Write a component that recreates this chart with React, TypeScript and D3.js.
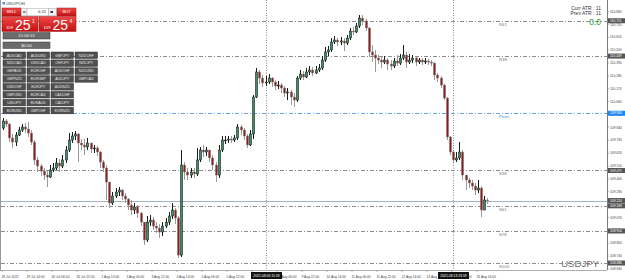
import React from 'react';
import * as d3 from 'd3';

const opens = [109.834,109.894,109.868,109.749,109.714,109.774,109.817,109.843,109.825,109.791,109.714,109.561,109.509,109.466,109.432,109.415,109.475,109.492,109.535,109.509,109.561,109.646,109.731,109.766,109.783,109.706,109.689,109.672,109.706,109.655,109.663,109.629,109.543,109.492,109.372,109.193,109.253,109.287,109.304,109.253,109.227,109.176,109.133,109.159,109.107,109.030,108.877,109.030,109.048,108.996,108.979,108.945,108.996,109.030,109.082,109.133,109.065,108.748,109.518,109.458,109.432,109.458,109.441,109.561,109.646,109.629,109.646,109.578,109.518,109.432,109.646,109.731,109.731,109.740,109.731,109.749,109.843,109.817,109.766,109.689,109.783,110.099,110.313,110.261,110.219,110.227,110.261,110.227,110.193,110.201,110.176,110.133,110.142,110.099,110.073,110.261,110.295,110.270,110.313,110.330,110.304,110.330,110.347,110.415,110.484,110.501,110.569,110.586,110.569,110.578,110.560,110.603,110.663,110.655,110.706,110.774,110.749,110.689,110.484,110.458,110.432,110.415,110.398,110.415,110.381,110.364,110.407,110.389,110.432,110.458,110.398,110.415,110.432,110.398,110.415,110.398,110.407,110.398,110.389,110.287,110.261,110.201,110.090,109.757,109.629,109.561,109.578,109.629,109.432,109.390,109.364,109.338,109.304,109.321,109.133,109.219];
const highs = [109.919,109.911,109.877,109.783,109.800,109.843,109.868,109.877,109.885,109.817,109.731,109.586,109.526,109.492,109.466,109.518,109.535,109.578,109.569,109.603,109.680,109.791,109.800,109.808,109.791,109.740,109.740,109.749,109.706,109.689,109.680,109.637,109.561,109.518,109.261,109.287,109.321,109.330,109.313,109.278,109.236,109.219,109.193,109.176,109.116,109.030,109.082,109.090,109.073,109.030,109.013,109.030,109.065,109.116,109.193,109.150,109.082,109.646,109.543,109.492,109.492,109.492,109.663,109.672,109.689,109.672,109.646,109.603,109.543,109.689,109.766,109.766,109.766,109.766,109.774,109.868,109.860,109.834,109.783,109.817,110.116,110.347,110.330,110.287,110.278,110.295,110.270,110.244,110.236,110.219,110.193,110.176,110.159,110.133,110.278,110.330,110.321,110.347,110.364,110.355,110.364,110.381,110.449,110.526,110.535,110.603,110.620,110.603,110.612,110.603,110.629,110.689,110.697,110.732,110.800,110.800,110.766,110.697,110.543,110.501,110.458,110.449,110.449,110.432,110.415,110.432,110.458,110.466,110.543,110.484,110.466,110.458,110.441,110.432,110.432,110.432,110.424,110.415,110.398,110.304,110.278,110.210,110.099,109.766,109.646,109.629,109.714,109.646,109.432,109.407,109.390,109.364,109.390,109.338,109.253,109.236];
const lows = [109.817,109.843,109.714,109.663,109.680,109.766,109.800,109.791,109.757,109.689,109.518,109.458,109.424,109.390,109.330,109.407,109.458,109.475,109.458,109.492,109.535,109.629,109.706,109.731,109.543,109.646,109.603,109.646,109.620,109.620,109.595,109.492,109.458,109.219,109.150,109.176,109.236,109.253,109.219,109.193,109.133,109.090,109.099,109.065,108.996,108.834,108.860,108.996,108.962,108.937,108.894,108.911,108.979,109.005,109.056,109.013,108.723,108.731,109.390,109.390,109.407,109.407,109.424,109.543,109.586,109.595,109.543,109.475,109.372,109.407,109.629,109.697,109.706,109.706,109.714,109.731,109.774,109.731,109.663,109.680,109.740,110.090,110.210,110.184,110.193,110.210,110.184,110.159,110.167,110.133,110.099,110.073,110.031,110.014,110.056,110.244,110.244,110.261,110.287,110.278,110.295,110.313,110.330,110.398,110.449,110.484,110.552,110.535,110.543,110.492,110.543,110.586,110.629,110.646,110.689,110.714,110.663,110.441,110.398,110.313,110.381,110.347,110.381,110.330,110.330,110.347,110.364,110.372,110.415,110.347,110.381,110.389,110.364,110.381,110.372,110.381,110.372,110.364,110.244,110.227,110.176,110.073,109.731,109.603,109.535,109.543,109.561,109.390,109.304,109.321,109.304,109.261,109.278,109.073,109.167,109.184];
const closes = [109.894,109.868,109.749,109.714,109.774,109.817,109.843,109.825,109.791,109.714,109.561,109.509,109.466,109.432,109.415,109.475,109.492,109.535,109.509,109.561,109.646,109.731,109.766,109.783,109.706,109.689,109.672,109.706,109.655,109.663,109.629,109.543,109.492,109.372,109.193,109.253,109.287,109.304,109.253,109.227,109.176,109.133,109.159,109.107,109.030,108.877,109.030,109.048,108.996,108.979,108.945,108.996,109.030,109.082,109.133,109.065,108.748,109.518,109.458,109.432,109.458,109.441,109.561,109.646,109.629,109.646,109.578,109.518,109.432,109.646,109.731,109.731,109.740,109.731,109.749,109.843,109.817,109.766,109.689,109.783,110.099,110.313,110.261,110.219,110.227,110.261,110.227,110.193,110.201,110.176,110.133,110.142,110.099,110.073,110.261,110.295,110.270,110.313,110.330,110.304,110.330,110.347,110.415,110.484,110.501,110.569,110.586,110.569,110.578,110.560,110.603,110.663,110.655,110.706,110.774,110.749,110.689,110.484,110.458,110.432,110.415,110.398,110.415,110.381,110.364,110.407,110.389,110.432,110.458,110.398,110.415,110.432,110.398,110.415,110.398,110.407,110.398,110.389,110.287,110.261,110.201,110.090,109.757,109.629,109.561,109.578,109.629,109.432,109.390,109.364,109.338,109.304,109.321,109.133,109.219,109.214];

const priceTicks = [110.83,110.72,110.61,110.5,110.39,110.28,110.17,110.06,109.95,109.84,109.73,109.62,109.51,109.4,109.29,109.18,109.07,108.96,108.85,108.74,108.63];
// visible part of each time label ('' = fully hidden behind a period box); anchor 'end' = only the tail shows
const timeLabels = ['28 Jul 2021','29 Jul 14:00','30 Jul 06:00','30 Jul 22:00','2 Aug 14:00','3 Aug 06:00','3 Aug 22:00','4 Aug 14:00','5 Aug 06:00','5 Aug 22:00','','Aug 06:00','9 Aug 22:00','10 Aug 14:00','11 Aug 06:00','11 Aug 22:00','12 Aug 14:00','13 Aug','00','16 Aug 14:00'];
const timeLabelTail = [false,false,false,false,false,false,false,false,false,false,false,true,false,false,false,false,false,false,true,false];
const timeLabelBars = [0,8,16,24,32,40,48,56,64,72,80,88,96,104,112,120,128,136,144,152];
const levelNames = ['R61','R38','Pivot','S38','S61','S78','S100'];
const levelValues = [110.751,110.449,109.96,109.471,109.169,108.954,108.68];
const bidPrice = 109.214;
const markerBars = [84, 144];
const markerLabels = ['2021.08.06 15:59', '2021.08.13 23:59'];
const pairNames = ['AUDCAD','NZDCAD','GBPAUD','GBPNZD','USDCHF','GBPUSD','USDJPY','EURUSD','AUDUSD','USDCAD','EURCHF','EURGBP','EURJPY','EURCAD','EURAUD','GBPCHF','GBPJPY','CHFJPY','AUDCHF','AUDJPY','AUDNZD','CADCHF','CADJPY','EURNZD','NZDCHF','NZDJPY','NZDUSD','GBPCAD'];

const FONT = '"Liberation Sans", Arial, sans-serif';

export default function App() {
  const x = d3.scaleLinear().domain([0, 192]).range([3, 603]);
  const y = d3.scaleLinear().domain([108.7, 110.8]).range([260.7, 15]);
  const plotRight = 607;
  const plotBottom = 270;
  const fmt = d3.format('.3f');

  const candles = closes.map((c, i) => {
    const o = opens[i];
    const hi = Math.max(highs[i], o, c);
    const lo = Math.min(lows[i], o, c);
    const bull = c >= o;
    const cx = Math.round(x(i)) + 0.5;
    const top = y(Math.max(o, c));
    const bh = Math.max(Math.abs(y(o) - y(c)), 0.8);
    return (
      <g key={i}>
        <line x1={cx} x2={cx} y1={y(hi)} y2={y(lo)} stroke={bull ? '#1a1a1a' : '#9a9a9a'} strokeWidth={1} />
        <rect x={cx - 1.1} y={top} width={2.2} height={bh} fill={bull ? '#3f8f66' : '#8e1c1c'} stroke={bull ? '#111' : '#8a8a8a'} strokeWidth={0.5} />
      </g>
    );
  });

  const levelLines = levelNames.map((n, i) => {
    const yy = Math.round(y(levelValues[i])) + 0.5;
    const isPivot = n === 'Pivot';
    return (
      <g key={n}>
        <line x1={1} x2={plotRight} y1={yy} y2={yy} stroke={isPivot ? '#6aa5e8' : '#8c8c8c'} strokeWidth={1} strokeDasharray="4 2 1 2" />
        <text x={499} y={yy + 4.3} fontSize={4.3} fill={isPivot ? '#3d8fe0' : '#777'} fontFamily={FONT}>{n}</text>
      </g>
    );
  });

  const bidY = Math.round(y(bidPrice)) + 0.5;

  const axisBoxes = [
    ...levelNames.map((n, i) => ({ v: levelValues[i], c: n === 'Pivot' ? '#1e88f0' : '#555' })),
    { v: bidPrice, c: '#555' },
  ];

  return (
    <svg width={625} height={280} style={{ position: 'absolute', left: 0, top: 0, background: '#fff' }} fontFamily={FONT}>
      <rect x={0} y={0} width={625} height={280} fill="#fff" />
      {markerBars.map((b) => (
        <line key={b} x1={Math.round(x(b)) + 0.5} x2={Math.round(x(b)) + 0.5} y1={0} y2={plotBottom} stroke="#8c8c8c" strokeWidth={1} strokeDasharray="1 1.5" />
      ))}
      {levelLines}
      <line x1={1} x2={plotRight} y1={bidY} y2={bidY} stroke="#a8b4c0" strokeWidth={1} />
      {candles}

      <line x1={0.5} x2={0.5} y1={0} y2={plotBottom} stroke="#9a9a9a" strokeWidth={1} />
      <line x1={0} x2={plotRight} y1={plotBottom + 0.5} y2={plotBottom + 0.5} stroke="#b0b0b0" strokeWidth={1} />
      <line x1={plotRight + 0.5} x2={plotRight + 0.5} y1={0} y2={plotBottom} stroke="#7a7a7a" strokeWidth={1} />

      {priceTicks.map((p) => (
        <g key={p}>
          <line x1={plotRight} x2={plotRight + 2} y1={y(p)} y2={y(p)} stroke="#7a7a7a" strokeWidth={0.6} />
          <text x={610} y={y(p) + 1.2} fontSize={3.3} fill="#444">{fmt(p)}</text>
        </g>
      ))}
      {axisBoxes.map((b, i) => (
        <g key={'b' + i}>
          <rect x={608} y={y(b.v) - 2.5} width={17} height={5} fill={b.c} />
          <text x={610} y={y(b.v) + 1.2} fontSize={3.3} fill="#fff">{fmt(b.v)}</text>
        </g>
      ))}

      {timeLabels.map((t, i) => {
        const lx = x(timeLabelBars[i]) - 1.5;
        const tail = timeLabelTail[i];
        return (
          <g key={'t' + i}>
            <line x1={Math.round(lx)} x2={Math.round(lx)} y1={plotBottom} y2={plotBottom + 2} stroke="#888" strokeWidth={0.6} />
            {t !== '' && (
              <text x={tail ? lx + 20 : lx} y={277.5} fontSize={3.3} fill="#444" textAnchor={tail ? 'end' : 'start'}>{t}</text>
            )}
          </g>
        );
      })}
      {markerBars.map((b, i) => (
        <g key={'m' + b}>
          <rect x={Math.round(x(b)) - 15} y={272} width={31} height={7} fill="#111" />
          <text x={Math.round(x(b)) + 0.5} y={277.2} fontSize={3.4} fill="#fff" textAnchor="middle">{markerLabels[i]}</text>
        </g>
      ))}

      <text x={599} y={267} fontSize={9.6} fill="#6e6e6e" textAnchor="end">USDJPY</text>

      <text x={601} y={9.5} fontSize={5} fill="#333" textAnchor="end">Curr ATR : 11</text>
      <text x={601} y={15} fontSize={5} fill="#333" textAnchor="end">Prev ATR : 11</text>
      <text x={601} y={24.5} fontSize={8.5} fill="#2e9a2e" textAnchor="end">0.0</text>

      <rect x={2.5} y={2} width={2.5} height={2.5} fill="#5b8fd1" />
      <text x={6} y={5} fontSize={3.6} fill="#333">USDJPY,H1</text>

      <defs>
        <linearGradient id="redg" x1="0" y1="0" x2="0" y2="1">
          <stop offset="0" stopColor="#f04848" />
          <stop offset="1" stopColor="#c41010" />
        </linearGradient>
      </defs>
      <rect x={2} y={8} width={19} height={8} fill="url(#redg)" stroke="#9a1a1a" strokeWidth={0.5} />
      <text x={11.5} y={13.3} fontSize={4} fill="#fff" textAnchor="middle">SELL</text>
      <rect x={21.5} y={8.5} width={5.5} height={7} fill="#f2f2f2" stroke="#aaa" strokeWidth={0.5} />
      <rect x={23} y={11.5} width={2.5} height={1} fill="#333" />
      <rect x={27} y={8.5} width={21.5} height={7} fill="#fff" stroke="#aaa" strokeWidth={0.5} />
      <text x={42} y={13.3} fontSize={4} fill="#222" textAnchor="middle">0.25</text>
      <rect x={48.5} y={8.5} width={8} height={7} fill="#f2f2f2" stroke="#aaa" strokeWidth={0.5} />
      <rect x={50.5} y={11} width={2.5} height={2} fill="#333" />
      <rect x={57} y={8} width={19} height={8} fill="url(#redg)" stroke="#9a1a1a" strokeWidth={0.5} />
      <text x={66.5} y={13.3} fontSize={4} fill="#fff" textAnchor="middle">BUY</text>

      <rect x={2} y={16.5} width={36} height={15} fill="url(#redg)" stroke="#9a1a1a" strokeWidth={0.5} />
      <text x={6} y={29} fontSize={4.2} fill="#fff">109</text>
      <text x={15} y={30} fontSize={14} fill="#fff">25</text>
      <text x={32} y={22.5} fontSize={5} fill="#fff">1</text>
      <rect x={39} y={16.5} width={37} height={15} fill="url(#redg)" stroke="#9a1a1a" strokeWidth={0.5} />
      <text x={43.5} y={29} fontSize={4.2} fill="#fff">109</text>
      <text x={52.5} y={30} fontSize={14} fill="#fff">25</text>
      <text x={69.5} y={22.5} fontSize={5} fill="#fff">4</text>

      <rect x={3} y={32.5} width={47} height={6.5} fill="#6b6b6b" stroke="#3a3a3a" strokeWidth={0.5} />
      <text x={26.5} y={37.3} fontSize={4.2} fill="#f4f4f4" textAnchor="middle">21:54:13</text>
      <rect x={3} y={42} width={47} height={6.5} fill="#6b6b6b" stroke="#3a3a3a" strokeWidth={0.5} />
      <text x={26.5} y={46.8} fontSize={4.2} fill="#f4f4f4" textAnchor="middle">$0.00</text>

      {pairNames.map((p, i) => {
        const col = Math.floor(i / 8);
        const row = i % 8;
        const bx = 3 + col * 24;
        const by = 52 + row * 7.9;
        return (
          <g key={p}>
            <rect x={bx} y={by} width={22.5} height={6.5} fill="#505050" stroke="#2a2a2a" strokeWidth={0.5} />
            <text x={bx + 11.25} y={by + 4.5} fontSize={3.6} fill="#e8e8e8" textAnchor="middle">{p}</text>
          </g>
        );
      })}
    </svg>
  );
}
